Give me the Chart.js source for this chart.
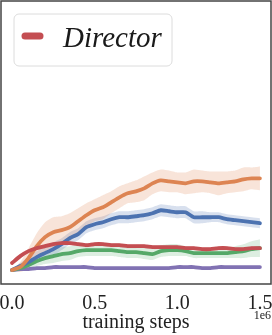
<!DOCTYPE html>
<html>
<head>
<meta charset="utf-8">
<script src="https://cdn.jsdelivr.net/npm/chart.js@4/dist/chart.umd.min.js"></script>
<style>
html,body{margin:0;padding:0;background:#fff;}
#wrap{width:272px;height:335px;position:relative;}
</style>
</head>
<body>
<div id="wrap"><canvas id="c" width="272" height="335"></canvas></div>
<script>
// ---- data ----
const steps = [0,50000,100000,150000,200000,250000,300000,350000,400000,450000,500000,550000,600000,650000,700000,750000,800000,850000,900000,950000,1000000,1050000,1100000,1150000,1200000,1250000,1300000,1350000,1400000,1450000,1500000];
const xTicks = [0, 500000, 1000000, 1500000];
const legendLabel = 'Director';
const xTitle = 'training steps';
const offsetText = '1e6';

const orangeMean = [0,3,12,24,33,38,40,43,49,55,60,63,68,73,77,79,82,87,90,89,88,87,89,89,88,87,88,89,91,92,92];
const orangeSpread = [0,5,10,13,15,15,14,14,13,12,11,12,11,11,10,11,12,11,11,11,10,11,12,11,11,12,11,11,12,11,12];
const blueMean = [0,4,8,13,17,21,26,32,36,43,46,48,51,53,53,54,55,57,60,59,58,58,53,53,53,53,51,50,49,48,47];
const blueSpread = [0,3,5,6,7,7,6,6,6,6,6,6,6,6,6,6,6,6,6,6,6,6,6,6,5,5,5,5,5,5,5];
const redMean = [7,14,19,22,24,26,27,27,26,25,26,26,25,25,24,24,24,23,23,23,23,22,22,21,21,22,22,21,21,22,22];
const redSpread = [0,2,2,2,2,2,2,2,2,2,2,2,2,2,2,2,2,2,2,2,2,2,2,2,2,2,2,2,2,2,2];
const greenMean = [0,2,5,9,12,14,16,17,19,20,20,20,20,19,18,18,17,16,19,20,20,19,17,17,17,17,17,18,19,21,22];
const greenSpread = [0,2,4,5,6,7,7,7,6,6,6,6,6,6,6,6,6,6,6,6,6,5,5,5,5,5,5,6,7,8,9];
const purpleMean = [0,1,1,2,2,3,3,3,3,3,2,2,2,2,2,2,2,2,2,2,3,3,3,2,2,3,3,3,3,3,3];
const purpleSpread = [0,1,1,1,1,1,1,1,1,1,1,1,1,1,1,1,1,1,1,1,1,1,1,1,1,1,1,1,1,1,1];

// ---- styling ----
const series = [
  {name:'Director', mean:redMean, spread:redSpread, color:'#C44E52', band:'rgba(196,78,82,0.2)', order:0},
  {name:'orange', mean:orangeMean, spread:orangeSpread, color:'#DD8452', band:'rgba(221,132,82,0.22)', order:1},
  {name:'blue', mean:blueMean, spread:blueSpread, color:'#4C72B0', band:'rgba(76,114,176,0.22)', order:2},
  {name:'green', mean:greenMean, spread:greenSpread, color:'#55A868', band:'rgba(85,168,104,0.2)', order:3},
  {name:'purple', mean:purpleMean, spread:purpleSpread, color:'#8172B3', band:'rgba(129,114,179,0.2)', order:4}
];

const pts = arr => steps.map((s,i)=>({x:s,y:arr[i]}));
const datasets = [];
series.forEach(s=>{
  datasets.push({label:s.name+'_lo', data:pts(s.mean.map((m,i)=>m-s.spread[i])), borderWidth:0, pointRadius:0, fill:false, order:10, tension:0.2});
  datasets.push({label:s.name+'_hi', data:pts(s.mean.map((m,i)=>m+s.spread[i])), borderWidth:0, pointRadius:0, fill:'-1', backgroundColor:s.band, order:10, tension:0.2});
});
series.forEach(s=>{
  datasets.push({label:s.name, data:pts(s.mean), borderColor:s.color, borderWidth:3.8, pointRadius:0, fill:false, order:s.order, tension:0.2, borderCapStyle:'round', borderJoinStyle:'round'});
});

const SERIF = '"Liberation Serif", "DejaVu Serif", serif';

const framePlugin = {
  id:'frame',
  afterDatasetsDraw(chart){
    const {ctx, chartArea:a} = chart;
    ctx.save();
    ctx.strokeStyle = '#444';
    ctx.lineWidth = 1.5;
    ctx.strokeRect(a.left, a.top, a.right-a.left, a.bottom-a.top);
    ctx.restore();
  },
  afterDraw(chart){
    const {ctx, chartArea:a} = chart;
    ctx.save();
    // offset text
    ctx.fillStyle = '#222';
    ctx.font = '12px ' + SERIF;
    ctx.textAlign = 'right';
    ctx.textBaseline = 'middle';
    ctx.fillText(offsetText, a.right, 316);
    // legend box
    const bx = 14, by = 14, bw = 158, bh = 52, r = 5;
    ctx.beginPath();
    ctx.moveTo(bx+r, by);
    ctx.arcTo(bx+bw, by, bx+bw, by+bh, r);
    ctx.arcTo(bx+bw, by+bh, bx, by+bh, r);
    ctx.arcTo(bx, by+bh, bx, by, r);
    ctx.arcTo(bx, by, bx+bw, by, r);
    ctx.closePath();
    ctx.fillStyle = 'rgba(255,255,255,0.85)';
    ctx.fill();
    ctx.strokeStyle = '#dcdcdc';
    ctx.lineWidth = 1;
    ctx.stroke();
    ctx.beginPath();
    ctx.moveTo(25, 36);
    ctx.lineTo(40, 36);
    ctx.strokeStyle = series[0].color;
    ctx.lineWidth = 7;
    ctx.lineCap = 'round';
    ctx.stroke();
    ctx.fillStyle = '#1a1a1a';
    ctx.font = 'italic 29px ' + SERIF;
    ctx.textAlign = 'left';
    ctx.textBaseline = 'alphabetic';
    ctx.fillText(legendLabel, 63, 47);
    ctx.restore();
  }
};

new Chart(document.getElementById('c'), {
  type:'line',
  data:{datasets},
  options:{
    responsive:false,
    animation:false,
    layout:{padding:{left:1, right:1, top:1, bottom:0}},
    plugins:{legend:{display:false}, tooltip:{enabled:false}, filler:{drawTime:'beforeDatasetsDraw'}},
    scales:{
      x:{
        type:'linear', min:-66500, max:1567000,
        grid:{display:false, drawTicks:false, tickLength:0},
        border:{display:false},
        afterBuildTicks(scale){ scale.ticks = xTicks.map(v=>({value:v})); },
        afterFit(scale){ scale.height = 51; scale.paddingLeft = 0; scale.paddingRight = 0; },
        ticks:{color:'#222', padding:8, maxRotation:0, font:{family:SERIF, size:20}, callback:v=>(v/1e6).toFixed(1)},
        title:{display:true, text:xTitle, color:'#222', font:{family:SERIF, size:20}, padding:{top:0, bottom:0}}
      },
      y:{display:false, min:-14, max:270}
    }
  },
  plugins:[framePlugin]
});
</script>
</body>
</html>
